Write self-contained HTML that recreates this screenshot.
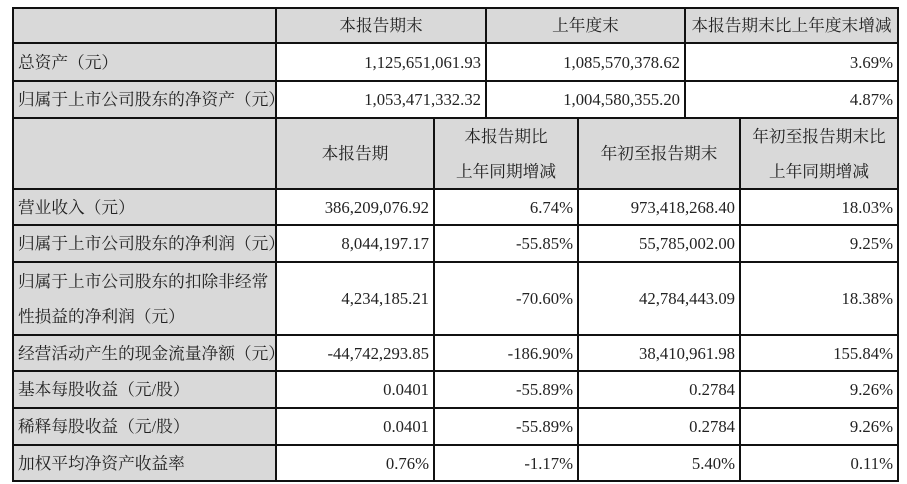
<!DOCTYPE html>
<html><head><meta charset="utf-8"><style>
body{margin:0;width:907px;height:484px;background:#fff;overflow:hidden;position:relative;font-family:"Liberation Serif","Noto Serif CJK SC",serif;font-size:16.7px;color:#222}
.c{position:absolute;box-sizing:border-box;border:2px solid #111;display:flex;align-items:center;padding:0 4px;line-height:33px;white-space:nowrap}
.g{background:#d9d9d9}
.r{justify-content:flex-end}
.m{justify-content:center;text-align:center}
.l{justify-content:flex-start}
</style></head><body>
<div class="c g" style="left:12px;top:7px;width:265px;height:37px"></div>
<div class="c g m" style="left:275px;top:7px;width:212px;height:37px">本报告期末</div>
<div class="c g m" style="left:485px;top:7px;width:201px;height:37px">上年度末</div>
<div class="c g m" style="left:684px;top:7px;width:215px;height:37px">本报告期末比上年度末增减</div>

<div class="c g l" style="left:12px;top:42px;width:265px;height:40px">总资产（元）</div>
<div class="c r" style="left:275px;top:42px;width:212px;height:40px">1,125,651,061.93</div>
<div class="c r" style="left:485px;top:42px;width:201px;height:40px">1,085,570,378.62</div>
<div class="c r" style="left:684px;top:42px;width:215px;height:40px">3.69%</div>

<div class="c g l" style="left:12px;top:80px;width:265px;height:39px">归属于上市公司股东的净资产（元）</div>
<div class="c r" style="left:275px;top:80px;width:212px;height:39px">1,053,471,332.32</div>
<div class="c r" style="left:485px;top:80px;width:201px;height:39px">1,004,580,355.20</div>
<div class="c r" style="left:684px;top:80px;width:215px;height:39px">4.87%</div>

<div class="c g" style="left:12px;top:117px;width:265px;height:73px"></div>
<div class="c g m" style="left:275px;top:117px;width:160px;height:73px">本报告期</div>
<div class="c g m" style="left:433px;top:117px;width:146px;height:73px;line-height:35px">本报告期比<br>上年同期增减</div>
<div class="c g m" style="left:577px;top:117px;width:164px;height:73px">年初至报告期末</div>
<div class="c g m" style="left:739px;top:117px;width:160px;height:73px;line-height:35px">年初至报告期末比<br>上年同期增减</div>

<div class="c g l" style="left:12px;top:188px;width:265px;height:38px">营业收入（元）</div>
<div class="c r" style="left:275px;top:188px;width:160px;height:38px">386,209,076.92</div>
<div class="c r" style="left:433px;top:188px;width:146px;height:38px">6.74%</div>
<div class="c r" style="left:577px;top:188px;width:164px;height:38px">973,418,268.40</div>
<div class="c r" style="left:739px;top:188px;width:160px;height:38px">18.03%</div>

<div class="c g l" style="left:12px;top:224px;width:265px;height:39px">归属于上市公司股东的净利润（元）</div>
<div class="c r" style="left:275px;top:224px;width:160px;height:39px">8,044,197.17</div>
<div class="c r" style="left:433px;top:224px;width:146px;height:39px">-55.85%</div>
<div class="c r" style="left:577px;top:224px;width:164px;height:39px">55,785,002.00</div>
<div class="c r" style="left:739px;top:224px;width:160px;height:39px">9.25%</div>

<div class="c g l" style="left:12px;top:261px;width:265px;height:75px;line-height:35px">归属于上市公司股东的扣除非经常<br>性损益的净利润（元）</div>
<div class="c r" style="left:275px;top:261px;width:160px;height:75px">4,234,185.21</div>
<div class="c r" style="left:433px;top:261px;width:146px;height:75px">-70.60%</div>
<div class="c r" style="left:577px;top:261px;width:164px;height:75px">42,784,443.09</div>
<div class="c r" style="left:739px;top:261px;width:160px;height:75px">18.38%</div>

<div class="c g l" style="left:12px;top:334px;width:265px;height:38px">经营活动产生的现金流量净额（元）</div>
<div class="c r" style="left:275px;top:334px;width:160px;height:38px">-44,742,293.85</div>
<div class="c r" style="left:433px;top:334px;width:146px;height:38px">-186.90%</div>
<div class="c r" style="left:577px;top:334px;width:164px;height:38px">38,410,961.98</div>
<div class="c r" style="left:739px;top:334px;width:160px;height:38px">155.84%</div>

<div class="c g l" style="left:12px;top:370px;width:265px;height:39px">基本每股收益（元/股）</div>
<div class="c r" style="left:275px;top:370px;width:160px;height:39px">0.0401</div>
<div class="c r" style="left:433px;top:370px;width:146px;height:39px">-55.89%</div>
<div class="c r" style="left:577px;top:370px;width:164px;height:39px">0.2784</div>
<div class="c r" style="left:739px;top:370px;width:160px;height:39px">9.26%</div>

<div class="c g l" style="left:12px;top:407px;width:265px;height:39px">稀释每股收益（元/股）</div>
<div class="c r" style="left:275px;top:407px;width:160px;height:39px">0.0401</div>
<div class="c r" style="left:433px;top:407px;width:146px;height:39px">-55.89%</div>
<div class="c r" style="left:577px;top:407px;width:164px;height:39px">0.2784</div>
<div class="c r" style="left:739px;top:407px;width:160px;height:39px">9.26%</div>

<div class="c g l" style="left:12px;top:444px;width:265px;height:38px">加权平均净资产收益率</div>
<div class="c r" style="left:275px;top:444px;width:160px;height:38px">0.76%</div>
<div class="c r" style="left:433px;top:444px;width:146px;height:38px">-1.17%</div>
<div class="c r" style="left:577px;top:444px;width:164px;height:38px">5.40%</div>
<div class="c r" style="left:739px;top:444px;width:160px;height:38px">0.11%</div>
</body></html>
